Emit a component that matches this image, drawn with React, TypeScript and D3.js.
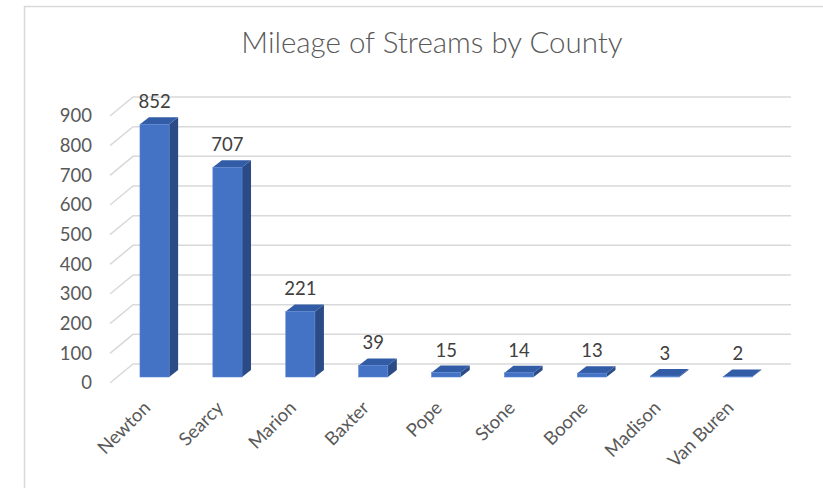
import * as d3 from 'd3'

const counties = ['Newton', 'Searcy', 'Marion', 'Baxter', 'Pope', 'Stone', 'Boone', 'Madison', 'Van Buren']
const miles = [852, 707, 221, 39, 15, 14, 13, 3, 2]
const yTicks = [0, 100, 200, 300, 400, 500, 600, 700, 800, 900]
const title = 'Mileage of Streams by County'

const W = 823
const H = 488
const FONT = 'Lato, "Open Sans", sans-serif'
const LABEL_SIZE = 18.5

// 3D look: back wall, slant to the front edge, and bar depth
const wallLeft = 133
const wallRight = 791
const slant = { dx: -23, dy: 19 }
const barFront = 13 // front face of bars sits this far below the back wall
const depth = { dx: 9, dy: -7 }

export default function App() {
  const y = d3.scaleLinear().domain([0, 900]).range([364, 97])

  const x = d3.scaleBand<string>()
    .domain(counties)
    .range([118.1, 774.2])
    .paddingInner(0.6)
    .paddingOuter(0.3)

  const bw = x.bandwidth()
  const data = counties.map((c, i) => ({ name: c, value: miles[i] }))

  return (
    <svg width={W} height={H} style={{ position: 'absolute', left: 0, top: 0, display: 'block', background: '#fff' }}>
      {/* chart frame */}
      <rect x={24.5} y={6.5} width={900} height={700} fill="#fff" stroke="#d9d9d9" strokeWidth={1.5} />

      <text x={432} y={53} textAnchor="middle" fontFamily={FONT} fontWeight={300} fontSize={29.5} fill="#595959">
        {title}
      </text>

      {/* gridlines on the back wall with slanted floor edge */}
      {yTicks.map(t => (
        <g key={t}>
          <path
            d={`M${wallLeft + slant.dx},${y(t) + slant.dy}L${wallLeft},${y(t)}L${wallRight},${y(t)}`}
            fill="none"
            stroke="#d9d9d9"
            strokeWidth={1.5}
          />
          <text
            x={92}
            y={y(t) + slant.dy}
            dy="0.35em"
            textAnchor="end"
            fontFamily={FONT}
            fontSize={LABEL_SIZE}
            fill="#595959"
          >
            {t}
          </text>
        </g>
      ))}

      {/* bars */}
      {data.map(d => {
        const x0 = x(d.name) as number
        const yT = y(d.value) + barFront
        const yB = y(0) + barFront
        const top = `M${x0},${yT}L${x0 + bw},${yT}L${x0 + bw + depth.dx},${yT + depth.dy}L${x0 + depth.dx},${yT + depth.dy}Z`
        const side = `M${x0 + bw},${yT}L${x0 + bw + depth.dx},${yT + depth.dy}L${x0 + bw + depth.dx},${yB + depth.dy}L${x0 + bw},${yB}Z`
        return (
          <g key={d.name}>
            <path d={side} fill="#2b4b86" />
            <path d={top} fill="#335ca6" />
            <rect x={x0} y={yT} width={bw} height={Math.max(0, yB - yT)} fill="#4472c4" stroke="#5a86d2" strokeWidth={0.6} />
            <text
              x={x0 + bw / 2}
              y={y(d.value) + barFront + depth.dy - 9}
              textAnchor="middle"
              fontFamily={FONT}
              fontSize={LABEL_SIZE}
              fill="#404040"
            >
              {d.value}
            </text>
          </g>
        )
      })}

      {/* category labels */}
      {data.map(d => {
        const cx = (x(d.name) as number) + bw / 2 - 3
        return (
          <text
            key={d.name}
            transform={`translate(${cx},409) rotate(-45)`}
            textAnchor="end"
            fontFamily={FONT}
            fontSize={LABEL_SIZE}
            fill="#595959"
          >
            {d.name}
          </text>
        )
      })}
    </svg>
  )
}
